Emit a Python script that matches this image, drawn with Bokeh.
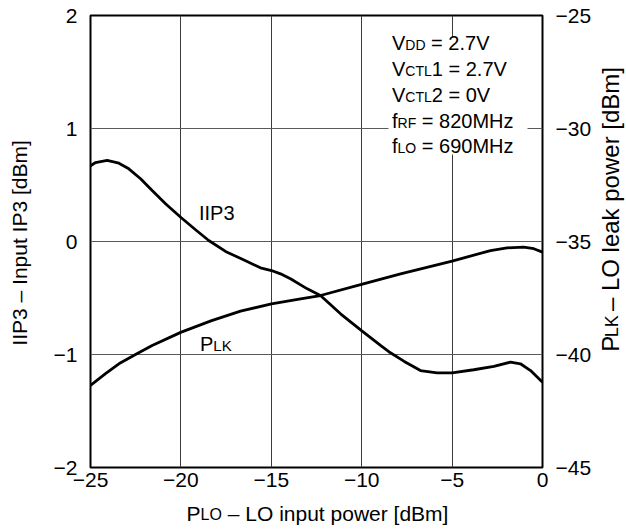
import numpy as np
from bokeh.plotting import figure
from bokeh.layouts import row, column
from bokeh.models import Range1d, LinearAxis, FixedTicker, ColumnDataSource
from bokeh.core.properties import value
from bokeh.embed import file_html
from bokeh.resources import INLINE

# ---------------- data ----------------
x_ticks = [-25, -20, -15, -10, -5, 0]
x_tick_labels = ["\u221225", "\u221220", "\u221215", "\u221210", "\u22125", "0"]
y_ticks = [-2, -1, 0, 1, 2]
y_tick_labels = ["\u22122", "\u22121", "0", "1", "2"]
y2_ticks = [-45, -40, -35, -30, -25]
y2_tick_labels = ["\u221245", "\u221240", "\u221235", "\u221230", "\u221225"]

plo_iip3 = [-25, -24.72, -24.08, -23.43, -22.88, -22.23, -21.59, -20.85, -19.98,
            -19.19, -18.46, -17.53, -16.6, -15.6, -14.99, -14.49, -13.94, -13.01,
            -12.28, -11.17, -10.01, -8.96, -8.41, -7.67, -6.75, -5.83, -5.0,
            -3.8, -2.69, -1.77, -1.22, -0.66, 0]
iip3 = [0.67, 0.699, 0.717, 0.693, 0.643, 0.555, 0.451, 0.334, 0.21,
        0.104, 0.009, -0.088, -0.158, -0.233, -0.257, -0.286, -0.33, -0.419,
        -0.478, -0.64, -0.788, -0.92, -0.985, -1.059, -1.142, -1.162, -1.162,
        -1.135, -1.106, -1.068, -1.082, -1.142, -1.245]

plo_plk = [-25, -24.17, -23.43, -22.51, -21.59, -19.98, -18.3, -16.7, -14.99,
           -13.38, -12.28, -10.01, -7.85, -5.0, -2.88, -1.96, -1.04, -0.48, 0]
plk = [-41.37, -40.85, -40.41, -40.0, -39.6, -39.01, -38.5, -38.08, -37.76,
       -37.54, -37.39, -36.9, -36.43, -35.87, -35.4, -35.28, -35.25, -35.32, -35.47]

cond_lines = [
    [("V", 0), ("DD", 1), (" = 2.7V", 0)],
    [("V", 0), ("CTL", 1), ("1 = 2.7V", 0)],
    [("V", 0), ("CTL", 1), ("2 = 0V", 0)],
    [("f", 0), ("RF", 1), (" = 820MHz", 0)],
    [("f", 0), ("LO", 1), (" = 690MHz", 0)],
]
x_title = [("P", 1), ("LO", 2), (" \u2013 LO input power [dBm]", 1)]
y_title = [("IIP3 \u2013 Input IP3 [dBm]", 1)]
y2_title = [("P", 1), ("LK", 2), (" \u2013 LO leak power [dBm]", 1)]

# ---------------- styling helpers ----------------
FONT = "Liberation Sans"
BIG, SMALL = 20, 14
MID = 0.35          # renderer anchors text ~0.35em above the baseline
VSHIFT = 17         # observed along-text drift of rotated titles (px)
AW = {' ': 278, '=': 584, '.': 278, 'V': 667, 'D': 722, 'C': 722, 'T': 611,
      'L': 556, 'f': 278, 'R': 722, 'F': 611, 'O': 778, 'M': 833, 'H': 722,
      'z': 500, 'I': 278, 'P': 667, 'K': 667, '\u2013': 556, 'n': 556,
      'p': 556, 'u': 556, 't': 278, 'o': 556, 'w': 722, 'e': 556, 'r': 333,
      '[': 278, ']': 278, 'd': 556, 'B': 667, 'm': 833, 'l': 222, 'a': 556,
      'k': 500, 'i': 222}
for ch in "0123456789":
    AW[ch] = 556


def tw(s, size):
    return sum(AW.get(c, 556) for c in s) * size / 1000.0


def layout_segments(segs, sizes):
    """Return (text, offset, size) with leading spaces folded into offsets."""
    out, off = [], 0.0
    for s, k in segs:
        sz = sizes[k]
        lead = len(s) - len(s.lstrip(" "))
        off += tw(" " * lead, sz)
        t = s.lstrip(" ")
        out.append((t, off, sz))
        off += tw(t, sz)
    return out, off


# page geometry (canvas == page)
PW, PH = 626, 530
FL, FR, FT, FB = 90, 542, 15, 467      # plot frame edges
LW = 44                                 # left strip width
RX = 596                                # right strip start
BY = 498                                # bottom strip start
XPU = (FR - FL) / 25.0
YPU = (FB - FT) / 4.0


def dx(px):
    return -25 + (px - FL) / XPU


def dy(py):
    return 2 - (py - FT) / YPU


p = figure(width=RX - LW, height=BY, x_range=Range1d(-25, 0),
           y_range=Range1d(-2, 2), output_backend="svg", toolbar_location=None,
           min_border_left=FL - LW, min_border_right=RX - FR,
           min_border_top=FT, min_border_bottom=BY - FB,
           background_fill_color="white", border_fill_color="white")
p.extra_y_ranges = {"plk": Range1d(-45, -25)}
p.add_layout(LinearAxis(y_range_name="plk"), "right")

p.outline_line_color = "black"
p.outline_line_width = 2

xt = FixedTicker(ticks=x_ticks)
yt = FixedTicker(ticks=y_ticks)
y2t = FixedTicker(ticks=y2_ticks)
p.xaxis[0].ticker = xt
p.yaxis[0].ticker = yt
p.yaxis[1].ticker = y2t
p.xaxis[0].major_label_overrides = dict(zip(x_ticks, x_tick_labels))
p.yaxis[0].major_label_overrides = dict(zip(y_ticks, y_tick_labels))
p.yaxis[1].major_label_overrides = dict(zip(y2_ticks, y2_tick_labels))

for ax in list(p.xaxis) + list(p.yaxis):
    ax.axis_line_color = None
    ax.major_tick_line_color = None
    ax.minor_tick_line_color = None
    ax.major_tick_out = 0
    ax.major_tick_in = 0
    ax.minor_tick_out = 0
    ax.major_label_text_font = FONT
    ax.major_label_text_font_size = "21px"
    ax.major_label_text_color = "black"
p.yaxis[0].major_label_standoff = 13
p.yaxis[1].major_label_standoff = 13
p.xaxis[0].major_label_standoff = 5

p.xgrid.ticker = xt
p.ygrid.ticker = yt
p.xgrid.grid_line_color = "#3c3c3c"
p.ygrid.grid_line_color = "#5a5a5a"
p.xgrid.grid_line_width = 1
p.ygrid.grid_line_width = 1.2

# curves
p.line(plo_iip3, iip3, line_color="black", line_width=2.8)
p.line(plo_plk, plk, line_color="black", line_width=2.8, y_range_name="plk")

# white backing for the condition block (interrupts grid lines)
p.quad(left=[dx(388)], right=[dx(527)], top=[dy(37)], bottom=[dy(154)],
       fill_color="white", line_color=None)

# condition text block
cx0 = dx(391.5)
line_px = [49.5, 75.5, 101.5, 127.3, 152.8]
tx, ty, tt, toff, tsz = [], [], [], [], []
for li, segs in enumerate(cond_lines):
    parts, _ = layout_segments(segs, {0: BIG, 1: SMALL})
    for t, off, sz in parts:
        tx.append(cx0); ty.append(dy(line_px[li] - MID * sz)); tt.append(t)
        toff.append(off); tsz.append("%dpx" % sz)
src = ColumnDataSource(dict(x=tx, y=ty, text=tt, xoff=toff, size=tsz))
p.text(x="x", y="y", text="text", x_offset="xoff", text_font_size="size",
       source=src, text_font=value(FONT), text_color="black",
       text_align="left", text_baseline="alphabetic")

# curve labels
p.text(x=[dx(198.5)], y=[dy(219.3 - MID * BIG)], text=["IIP3"],
       text_font=value(FONT), text_font_size="20px", text_color="black",
       text_align="left", text_baseline="alphabetic")
p.text(x=[dx(199.5), dx(199.5)],
       y=[dy(350.7 - MID * BIG), dy(350.7 - MID * 15)], text=["P", "LK"],
       x_offset=[0, tw("P", BIG)], text_font_size=["20px", "15px"],
       text_font=value(FONT), text_color="black",
       text_align="left", text_baseline="alphabetic")


# ---------------- strips holding the axis titles ----------------
def strip(x0, x1, y0, y1):
    # data x = page x, data y = -page y
    f = figure(width=x1 - x0, height=y1 - y0, x_range=Range1d(x0, x1),
               y_range=Range1d(-y1, -y0), output_backend="svg",
               toolbar_location=None, min_border=0,
               x_axis_type=None, y_axis_type=None,
               background_fill_color="white", border_fill_color="white")
    f.outline_line_color = None
    return f


def draw_title(f, segs, base, center, big, small, vertical):
    parts, total = layout_segments(segs, {1: big, 2: small})
    xs, ys, ts, ss = [], [], [], []
    for t, off, sz in parts:
        if not vertical:
            xs.append(center - total / 2 + off)
            ys.append(-(base - MID * sz))
        else:
            xs.append(base - MID * sz)
            ys.append(-(center + VSHIFT) - total / 2 + off)
        ts.append(t); ss.append("%dpx" % sz)
    f.text(x=xs, y=ys, text=ts, text_font_size=ss,
           angle=np.pi / 2 if vertical else 0.0,
           text_font=value(FONT), text_color="black",
           text_align="left", text_baseline="alphabetic")


left = strip(0, LW, 0, BY)
draw_title(left, y_title, 26, 244, 21, 16, True)

right = strip(RX, PW, 0, BY)
draw_title(right, y2_title, 618, 209, 24, 18, True)

bottom = strip(0, PW, BY, PH)
draw_title(bottom, x_title, 520, 317, 21, 16, False)

lay = column(row(left, p, right), bottom)
open("out.html", "w").write(file_html(lay, INLINE))
